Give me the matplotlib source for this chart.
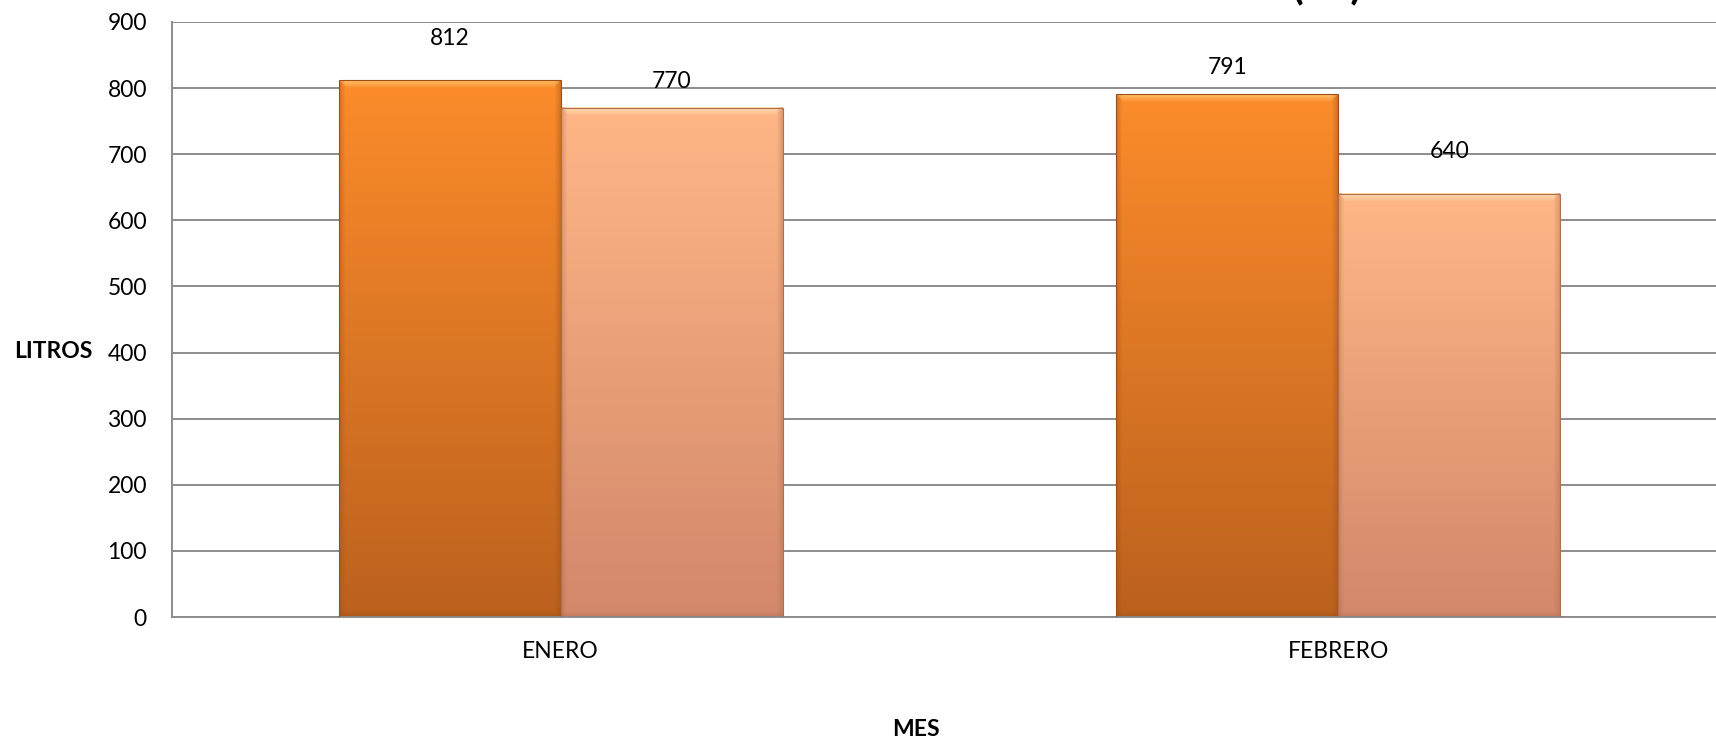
import matplotlib
matplotlib.use("Agg")
import matplotlib.pyplot as plt
import numpy as np
from matplotlib.colors import to_rgb

# datos
meses = ["ENERO", "FEBRERO"]
serie_1 = [812, 791]
serie_2 = [770, 640]
y_ticks = [0, 100, 200, 300, 400, 500, 600, 700, 800, 900]

# estilo
plt.rcParams['font.family'] = ['Lato', 'DejaVu Sans']
FS = 16.5
W, H = 1716, 740
ancho = 0.2855
colores = [("#FC8C2B", "#BB611E", "#FFC66C", "#9A4E18"),
           ("#FFB787", "#D2886A", "#FFE6BC", "#B06E52")]
# desplazamiento de las etiquetas (px sobre la barra)
desp = [[42, 27], [26, 42]]


def barra_degradado(ax, rect, c_top, c_bot, c_hi, c_edge, px_por_unidad):
    x0 = rect.get_x()
    x1 = x0 + rect.get_width()
    h = rect.get_height()
    h_px = max(int(h * px_por_unidad), 2)
    w_px = max(int(rect.get_width() * 777.5), 2)
    t = np.linspace(0, 1, h_px)[:, None]
    top = np.array(to_rgb(c_top))
    bot = np.array(to_rgb(c_bot))
    img = top[None, None, :] * (1 - t[..., None]) + bot[None, None, :] * t[..., None]
    img = np.repeat(img, w_px, axis=1)
    hi = np.array(to_rgb(c_hi))
    ed = np.array(to_rgb(c_edge))
    # bisel: franja clara arriba, bordes oscuros
    for i in range(8):
        a = 0.85 * (1 - i / 8)
        img[i, i:w_px - i] = img[i, i:w_px - i] * (1 - a) + hi * a
    for j in range(6):
        a = 0.4 * (1 - j / 6)
        img[:, j] = img[:, j] * (1 - a) + ed * a
        img[:, w_px - 1 - j] = img[:, w_px - 1 - j] * (1 - a) + ed * a
        img[h_px - 1 - j, :] = img[h_px - 1 - j, :] * (1 - a) + ed * a
    ax.imshow(img, extent=(x0, x1, 0, h), aspect='auto', zorder=2,
              interpolation='bilinear')


fig = plt.figure(figsize=(W / 100, H / 100), dpi=100)
ax = fig.add_axes([172 / W, 123 / H, 1555 / W, 595 / H])

x = np.arange(len(meses))
px_por_unidad = 595 / 900
for k, serie in enumerate([serie_1, serie_2]):
    pos = x - ancho / 2 + k * ancho
    barras = ax.bar(pos, serie, width=ancho, facecolor='none',
                    edgecolor=colores[k][3], linewidth=0.8, zorder=3)
    for b, v, d in zip(barras, serie, desp[k]):
        barra_degradado(ax, b, *colores[k], px_por_unidad)
        ax.annotate(str(v), (b.get_x() + b.get_width() / 2, v),
                    xytext=(0, d * 0.72), textcoords='offset points',
                    ha='center', va='center', fontsize=FS, color='black',
                    zorder=4)

ax.set_xlim(-0.5, 1.5)
ax.set_ylim(0, 900)
ax.set_yticks(y_ticks)
ax.set_xticks(x)
ax.set_xticklabels(meses)
ax.tick_params(axis='both', length=0, labelsize=FS)
ax.tick_params(axis='y', pad=18)
ax.tick_params(axis='x', pad=17)
ax.grid(axis='y', color='#8C8C8C', linewidth=1.4, zorder=1)
ax.set_axisbelow(True)
for s in ['top', 'right']:
    ax.spines[s].set_visible(False)
ax.spines['left'].set_color('#8C8C8C')
ax.spines['left'].set_linewidth(1.4)
ax.spines['bottom'].set_color('#8C8C8C')
ax.spines['bottom'].set_linewidth(1.4)

fig.text(14 / W, 1 - 352 / H, "LITROS", fontsize=FS, fontweight='bold',
         ha='left', va='center')
fig.text(916 / W, 1 - 730 / H, "MES", fontsize=FS, fontweight='bold',
         ha='center', va='center')
# titulo cortado por el borde superior
fig.text(1362 / W, 1 + 2 / H, "CONSUMO (LT)", fontsize=30, fontweight='bold',
         ha='right', va='baseline')

fig.savefig("out.png", dpi=100)
